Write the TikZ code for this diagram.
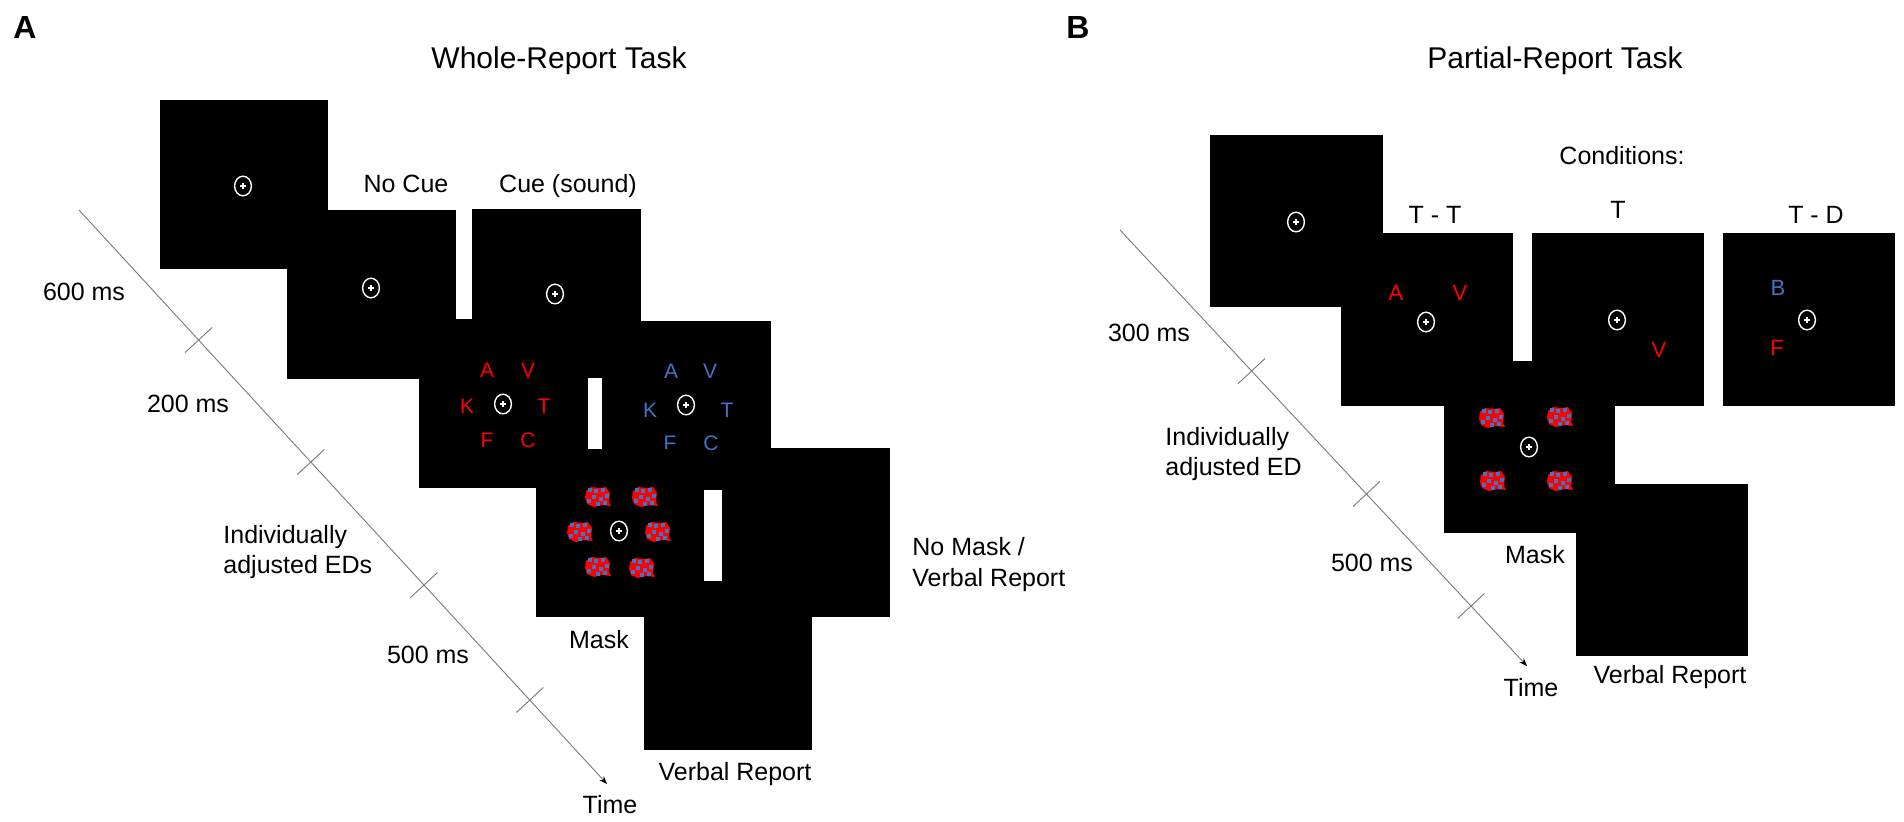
\documentclass[tikz,border=0pt]{standalone}
\usepackage{fontspec}
\setmainfont{Liberation Sans}
\usetikzlibrary{calc,arrows.meta}
\definecolor{lred}{RGB}{255,0,0}
\definecolor{lblue}{RGB}{68,114,196}
\definecolor{tgray}{RGB}{120,120,120}
\tikzset{
  fixmark/.pic={
    \draw[white,line width=0.7pt] (0,0) ellipse[x radius=4.2pt,y radius=4.9pt];
    \draw[white,line width=0.7pt] (-3,0)--(3,0) (0,-3)--(0,3);
  },
  maskpatch/.pic={
    \fill[lred] (-12,-6) -- (-7,-10) -- (2,-9) -- (8,-10) -- (12,-4) -- (11,5) -- (13,9) -- (4,8) -- (-4,10) -- (-11,7) -- (-13,1) -- cycle;
    \foreach \px/\py in {-8/-7,-2/-6,5/-7,9/-1,-4/0,3/2,-9/4,7/6,0/7}
      \fill[lblue] (\px-1.9,\py-1.9) rectangle (\px+1.9,\py+1.9);
  }
}
\begin{document}
\begin{tikzpicture}[x=0.5pt,y=-0.5pt,
  scr/.style={fill=black},
  lbl/.style={font=\fontsize{12.5}{15}\selectfont, inner sep=0pt, anchor=base},
  lblw/.style={font=\fontsize{12.5}{15}\selectfont, inner sep=0pt, anchor=base west},
  ttl/.style={font=\fontsize{15}{18}\selectfont, inner sep=0pt, anchor=base},
  pnl/.style={font=\fontsize{16}{19}\selectfont\bfseries, inner sep=0pt, anchor=base west},
  ltra/.style={font=\fontsize{10.5}{12}\selectfont, inner sep=0pt},
  ltrb/.style={font=\fontsize{11}{13}\selectfont, inner sep=0pt},
  tl/.style={draw=tgray, line width=0.45pt},
]
\useasboundingbox (0,0) rectangle (1904,821);

% ---------------- Panel A ----------------
\node[pnl] (labA) at (13,38) {A};
\node[ttl] (titA) at (559,68) {Whole-Report Task};

\fill[scr] (160,100) rectangle (328,269);
\pic at (243,186) {fixmark};
\fill[scr] (287,210) rectangle (456,379);
\pic at (371,288) {fixmark};
\fill[scr] (472,209) rectangle (641,378);
\pic at (555,294) {fixmark};

\fill[scr] (419,319) rectangle (588,488);
\pic at (503,404) {fixmark};
\node[ltra,text=lred] (ra) at (487,370) {A};
\node[ltra,text=lred] (rv) at (528,370) {V};
\node[ltra,text=lred] (rk) at (467,406) {K};
\node[ltra,text=lred] (rt) at (544,406) {T};
\node[ltra,text=lred] (rf) at (487,440) {F};
\node[ltra,text=lred] (rc) at (528,440) {C};

\fill[scr] (602,321) rectangle (771,490);
\pic at (686,405) {fixmark};
\node[ltra,text=lblue] (ba) at (671,371) {A};
\node[ltra,text=lblue] (bv) at (710,371) {V};
\node[ltra,text=lblue] (bk) at (650,410) {K};
\node[ltra,text=lblue] (bt) at (727,410) {T};
\node[ltra,text=lblue] (bf) at (670,443) {F};
\node[ltra,text=lblue] (bc) at (711,443) {C};

\fill[scr] (536,449) rectangle (704,617);
\pic at (619,531) {fixmark};
\pic at (598,497) {maskpatch};
\pic at (645,497) {maskpatch};
\pic at (580,532) {maskpatch};
\pic at (658,532) {maskpatch};
\pic at (598,567) {maskpatch};
\pic at (642,568) {maskpatch};

\fill[scr] (722,448) rectangle (890,617);
\fill[scr] (644,581) rectangle (812,750);

\node[lbl] (nocue) at (406,192) {No Cue};
\node[lbl] (cue) at (568,192) {Cue (sound)};
\node[lbl] (a600) at (84,300) {600 ms};
\node[lbl] (a200) at (188,412) {200 ms};
\node[lblw] (aind1) at (223,543) {Individually};
\node[lblw] (aind2) at (223,573) {adjusted EDs};
\node[lbl] (a500) at (428,663) {500 ms};
\node[lbl] (amask) at (599,648) {Mask};
\node[lbl] (atime) at (610,813) {Time};
\node[lbl] (averb) at (735,780) {Verbal Report};
\node[lblw] (anm1) at (912,555) {No Mask /};
\node[lblw] (anm2) at (912,586) {Verbal Report};

\coordinate (tA0) at (79,210);
\coordinate (tA9) at (607,784);
\coordinate (tA1) at (198.6,340);
\coordinate (tA2) at (310.8,462);
\coordinate (tA3) at (424,585);
\coordinate (tA4) at (529.8,700);
\draw[tl,-{Stealth[length=4pt,width=3pt,color=black]}] (tA0) -- (tA9);
\foreach \t in {tA1,tA2,tA3,tA4}
  \draw[tl] ($(\t)+(13.5,-12.5)$) -- ($(\t)+(-13.5,12.5)$);

% ---------------- Panel B ----------------
\node[pnl] (labB) at (1066,38) {B};
\node[ttl] (titB) at (1555,68) {Partial-Report Task};
\node[lbl] (cond) at (1622,164) {Conditions:};

\fill[scr] (1210,135) rectangle (1383,307);
\pic at (1296,222) {fixmark};
\fill[scr] (1341,233) rectangle (1513,406);
\pic at (1426,322) {fixmark};
\node[ltrb,text=lred] (pa) at (1396,293) {A};
\node[ltrb,text=lred] (pv) at (1460,293) {V};
\fill[scr] (1532,233) rectangle (1704,406);
\pic at (1617,320) {fixmark};
\node[ltrb,text=lred] (qv) at (1659,350) {V};
\fill[scr] (1723,233) rectangle (1895,406);
\pic at (1807,320) {fixmark};
\node[ltrb,text=lblue] (db) at (1778,288) {B};
\node[ltrb,text=lred] (df) at (1777,348) {F};

\fill[scr] (1444,361) rectangle (1615,533);
\pic at (1529,447) {fixmark};
\pic at (1492,418) {maskpatch};
\pic at (1560,417) {maskpatch};
\pic at (1493,481) {maskpatch};
\pic at (1560,481) {maskpatch};

\fill[scr] (1576,484) rectangle (1748,656);

\node[lbl] (tt) at (1435,223) {T - T};
\node[lbl] (t) at (1618,218) {T};
\node[lbl] (td) at (1816,223) {T - D};
\node[lbl] (b300) at (1149,341) {300 ms};
\node[lblw] (bind1) at (1165,445) {Individually};
\node[lblw] (bind2) at (1165,475) {adjusted ED};
\node[lbl] (b500) at (1372,571) {500 ms};
\node[lbl] (bmask) at (1535,563) {Mask};
\node[lbl] (btime) at (1531,696) {Time};
\node[lbl] (bverb) at (1670,683) {Verbal Report};

\coordinate (tB0) at (1120,230);
\coordinate (tB9) at (1527,666);
\coordinate (tB1) at (1251.6,371);
\coordinate (tB2) at (1366.4,494);
\coordinate (tB3) at (1471,606);
\draw[tl,-{Stealth[length=4pt,width=3pt,color=black]}] (tB0) -- (tB9);
\foreach \t in {tB1,tB2,tB3}
  \draw[tl] ($(\t)+(13.4,-12.5)$) -- ($(\t)+(-13.4,12.5)$);
\end{tikzpicture}
\end{document}
